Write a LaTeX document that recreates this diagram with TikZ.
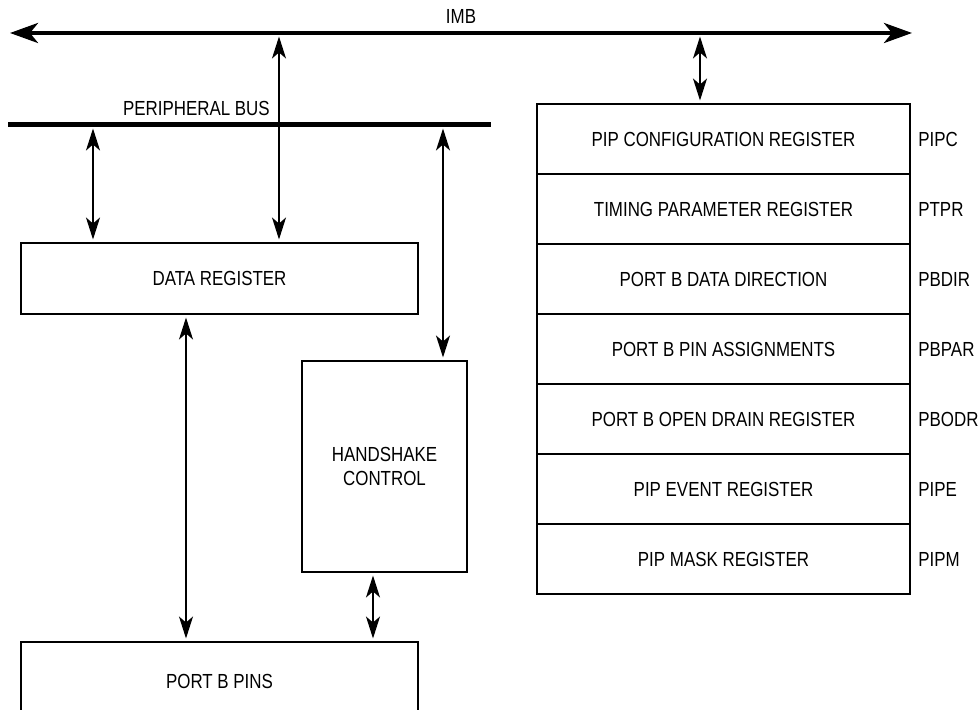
\documentclass[tikz,border=0pt]{standalone}
\usepackage{fontspec}
\setmainfont{Liberation Sans}[FakeStretch=0.83]
\usetikzlibrary{arrows.meta,positioning}
\tikzset{
  box/.style={rectangle, draw=black, fill=white, line width=0.4mm,
              align=center, inner sep=0pt, outer sep=0pt},
  regbox/.style={box, minimum width=74.6mm, minimum height=14mm},
  tag/.style={inner sep=0pt, anchor=west},
  lbl/.style={inner sep=0pt},
  bus/.style={line width=1mm},
  imb/.style={{Stealth[length=5.6mm,width=4mm,inset=1.6mm]}-{Stealth[length=5.6mm,width=4mm,inset=1.6mm]},
              line width=0.8mm},
  link/.style={<->, line width=0.3mm, shorten <=0.7mm, shorten >=0.7mm}
}

\begin{document}
\begin{tikzpicture}[x=0.2mm, y=-0.2mm, node distance=0mm,
  >={Stealth[length=4.4mm,width=2.8mm,inset=1.2mm]},
  every node/.style={font=\fontsize{11.6}{13.6}\selectfont}]
 \useasboundingbox (0,0) rectangle (980,710);
 % busses
 \coordinate (imb-w) at (10,33); \coordinate (imb-e) at (912,33);
 \coordinate (pb-w) at (8,125); \coordinate (pb-e) at (491,125);
 \draw[imb] (imb-w) -- node[lbl, above=1.4mm]{IMB} (imb-e);
 \draw[bus] (pb-w) -- node[lbl, above=1.4mm, pos=0.39]{PERIPHERAL BUS} (pb-e);

 % port side
 \node[box, minimum width=79.4mm, minimum height=14.2mm] (dreg) at (219.5,278.5) {DATA REGISTER};
 \node[box, minimum width=33mm, minimum height=42.2mm] (hs) at (384.5,466.5) {HANDSHAKE\\CONTROL};
 \node[box, minimum width=79.4mm, minimum height=15.6mm, below=65.6mm of dreg] (pins) {PORT B PINS};

 % register stack
 \node[regbox] (pipc) at (723.5,139) {PIP CONFIGURATION REGISTER};
 \node[regbox, below=of pipc] (ptpr) {TIMING PARAMETER REGISTER};
 \node[regbox, below=of ptpr] (pbdir) {PORT B DATA DIRECTION};
 \node[regbox, below=of pbdir] (pbpar) {PORT B PIN ASSIGNMENTS};
 \node[regbox, below=of pbpar] (pbodr) {PORT B OPEN DRAIN REGISTER};
 \node[regbox, below=of pbodr] (pipe) {PIP EVENT REGISTER};
 \node[regbox, below=of pipe] (pipm) {PIP MASK REGISTER};
 \node[tag, right=1.6mm of pipc] (pipc-t) {PIPC};
 \node[tag, right=1.6mm of ptpr] (ptpr-t) {PTPR};
 \node[tag, right=1.6mm of pbdir] (pbdir-t) {PBDIR};
 \node[tag, right=1.6mm of pbpar] (pbpar-t) {PBPAR};
 \node[tag, right=1.6mm of pbodr] (pbodr-t) {PBODR};
 \node[tag, right=1.6mm of pipe] (pipe-t) {PIPE};
 \node[tag, right=1.6mm of pipm] (pipm-t) {PIPM};

 % connectors
 \coordinate (tap-a) at (93,125);
 \coordinate (tap-b) at (279,33);
 \coordinate (tap-c) at (443,125);
 \coordinate (tap-d) at (700,33);
 \draw[link] (tap-a) -- (tap-a |- dreg.north);
 \draw[link] (tap-b) -- (tap-b |- dreg.north);
 \draw[link] (tap-c) -- (tap-c |- hs.north);
 \draw[link] (tap-d) -- (tap-d |- pipc.north);
 \draw[link] ([xshift=-6.7mm]dreg.south) -- ([xshift=-6.7mm]dreg.south |- pins.north);
 \draw[link] ([xshift=-2.3mm]hs.south) -- ([xshift=-2.3mm]hs.south |- pins.north);
\end{tikzpicture}
\end{document}
